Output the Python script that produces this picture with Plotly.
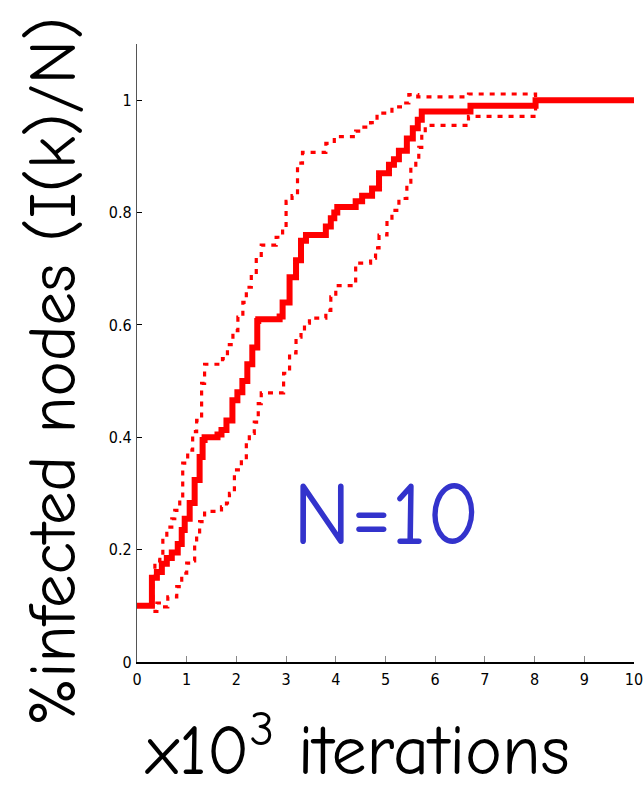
import plotly.graph_objects as go

# Fraction of infected nodes vs. iterations (thousands): mean and +/- spread bounds
mean_x = [0, 0.3, 0.4, 0.5, 0.6, 0.7, 0.82, 0.9, 0.96, 1.06, 1.16, 1.26, 1.32, 1.36,
          1.62, 1.7, 1.8, 1.92, 2.02, 2.12, 2.22, 2.32, 2.42, 2.44, 2.87, 2.93, 3.07,
          3.2, 3.3, 3.4, 3.8, 3.9, 3.97, 4.03, 4.4, 4.53, 4.73, 4.87, 5.07, 5.17, 5.27,
          5.43, 5.55, 5.65, 5.73, 6.71, 8.02, 10]
mean_y = [0.1, 0.15, 0.16, 0.175, 0.185, 0.195, 0.21, 0.235, 0.255, 0.283, 0.324, 0.365,
          0.395, 0.40, 0.405, 0.413, 0.43, 0.466, 0.48, 0.50, 0.53, 0.56, 0.607, 0.61,
          0.615, 0.64, 0.685, 0.715, 0.75, 0.76, 0.775, 0.79, 0.80, 0.81, 0.82, 0.83,
          0.843, 0.87, 0.885, 0.895, 0.91, 0.932, 0.95, 0.965, 0.98, 0.99, 1.0, 1.0]

upper_x = [0, 0.32, 0.36, 0.46, 0.52, 0.6, 0.7, 0.76, 0.86, 0.92, 1.02, 1.12, 1.2, 1.3,
           1.36, 1.72, 1.82, 1.93, 2.03, 2.13, 2.2, 2.3, 2.4, 2.5, 2.8, 2.93, 3.0, 3.12,
           3.23, 3.33, 3.8, 3.97, 4.4, 4.53, 4.7, 4.83, 5.13, 5.3, 5.47, 5.65, 6.67,
           8.02, 10]
upper_y = [0.1, 0.15, 0.18, 0.19, 0.22, 0.24, 0.255, 0.27, 0.29, 0.354, 0.377, 0.41,
           0.43, 0.496, 0.53, 0.54, 0.565, 0.59, 0.614, 0.64, 0.667, 0.69, 0.72, 0.742,
           0.756, 0.77, 0.82, 0.83, 0.888, 0.907, 0.923, 0.935, 0.945, 0.952, 0.96,
           0.977, 0.988, 0.995, 1.01, 1.006, 1.011, 1.0, 1.0]

lower_x = [0, 0.32, 0.4, 0.5, 0.62, 0.8, 0.9, 1.0, 1.1, 1.16, 1.2, 1.26, 1.36, 1.7, 1.8,
           1.86, 1.96, 2.1, 2.2, 2.26, 2.36, 2.44, 2.5, 2.95, 3.07, 3.2, 3.3, 3.37, 3.47,
           3.8, 3.9, 4.0, 4.4, 4.7, 4.8, 4.87, 5.03, 5.13, 5.27, 5.43, 5.51, 5.61, 5.67,
           5.73, 5.8, 6.67, 8.02, 10]
lower_y = [0.1, 0.09, 0.105, 0.098, 0.116, 0.134, 0.158, 0.176, 0.18, 0.21, 0.226, 0.25,
           0.268, 0.276, 0.283, 0.30, 0.342, 0.36, 0.39, 0.407, 0.427, 0.46, 0.479, 0.514,
           0.55, 0.578, 0.59, 0.603, 0.612, 0.626, 0.65, 0.67, 0.71, 0.719, 0.737, 0.76,
           0.786, 0.804, 0.825, 0.854, 0.88, 0.893, 0.916, 0.94, 0.955, 0.971, 1.0, 1.0]

x_ticks = [0, 1, 2, 3, 4, 5, 6, 7, 8, 9, 10]
y_ticks = [0, 0.2, 0.4, 0.6, 0.8, 1]
y_tick_text = ["0", "0.2", "0.4", "0.6", "0.8", "1"]

RED = "#ff0000"
TICK_FONT = dict(family="DejaVu Sans Condensed, Liberation Sans Narrow, Arial Narrow, sans-serif",
                 size=16, color="black")
TITLE_FONT = "Comic Neue, Comic Sans MS, Noto Sans, DejaVu Sans, sans-serif"

fig = go.Figure()
for xs, ys in ((upper_x, upper_y), (lower_x, lower_y)):
    fig.add_trace(go.Scatter(x=xs, y=ys, mode="lines", line_shape="hv",
                             line=dict(color=RED, width=3.2, dash="5px,6px"),
                             showlegend=False, hoverinfo="skip"))
fig.add_trace(go.Scatter(x=mean_x, y=mean_y, mode="lines", line_shape="hv",
                         line=dict(color=RED, width=6), showlegend=False))

fig.update_layout(
    width=643, height=792,
    margin=dict(l=137, r=9, t=44, b=130, autoexpand=False),
    paper_bgcolor="white", plot_bgcolor="white",
    xaxis=dict(range=[0, 10.0005], tickvals=x_ticks, ticks="inside", ticklen=6,
               tickcolor="#888888", tickwidth=1, showgrid=False, zeroline=False,
               showline=True, linecolor="black", linewidth=1.5, automargin=False,
               tickfont=TICK_FONT, ticklabelstandoff=2, ticklabeloverflow="allow"),
    yaxis=dict(range=[0, 1.1], tickvals=y_ticks, ticktext=y_tick_text, ticks="inside",
               ticklen=5, tickcolor="black", tickwidth=1, showgrid=False, zeroline=False,
               showline=True, linecolor="#555555", linewidth=1.2, automargin=False,
               tickfont=TICK_FONT, ticklabelstandoff=1),
    annotations=[
        dict(text="x10<sup>3</sup> iterations", xref="paper", yref="paper",
             x=0.443, y=-0.137, xanchor="center", yanchor="middle", showarrow=False,
             font=dict(family=TITLE_FONT, size=70, color="black")),
        dict(text="%infected nodes (I(k)/N)", xref="paper", yref="paper",
             x=-0.168, y=0.47, xanchor="center", yanchor="middle", showarrow=False,
             textangle=-90, font=dict(family=TITLE_FONT, size=67, color="black")),
        dict(text="N=10", xref="x", yref="y", x=5.03, y=0.26, showarrow=False,
             xanchor="center", yanchor="middle",
             font=dict(family=TITLE_FONT, size=88, color="#3333cc")),
    ],
)

fig.write_html("out.html")
